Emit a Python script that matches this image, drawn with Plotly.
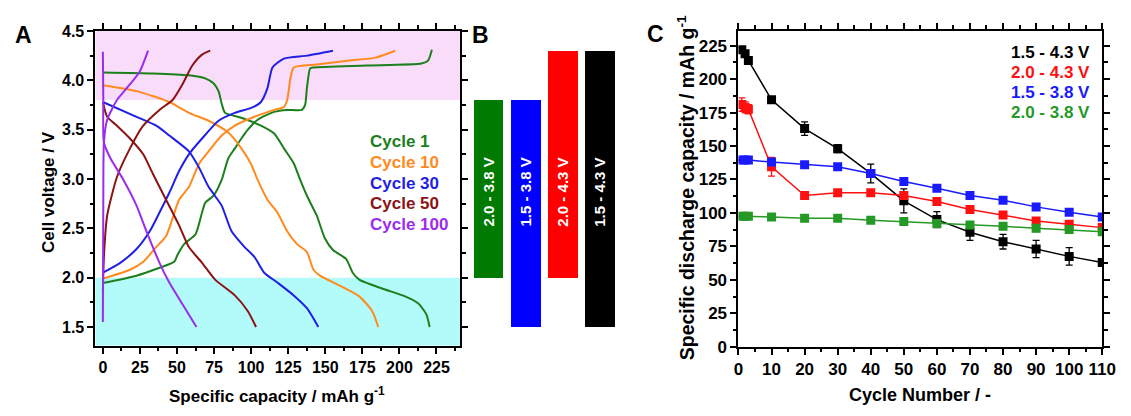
import plotly.graph_objects as go

# ---------------- Panel A data (capacity mAh/g, voltage V) ----------------
c1_ch_x = [0, 22.7, 38.2, 48.1, 50.3, 54.8, 62.5, 66.9, 69.1, 74.6, 80.1, 84.6, 89, 93.4, 97.8, 104.4, 115.5, 124.3, 134.2, 136.4, 137.6, 139.8, 142, 177.3, 214.8, 219.3, 221.9]
c1_ch_y = [1.946, 2.02, 2.10, 2.16, 2.23, 2.34, 2.44, 2.66, 2.76, 2.83, 2.99, 3.21, 3.31, 3.41, 3.50, 3.60, 3.68, 3.70, 3.70, 3.75, 3.92, 4.12, 4.13, 4.15, 4.17, 4.20, 4.31]
c1_dis_x = [0, 33.8, 58, 69, 74.6, 78, 80.2, 82.4, 93.4, 106.6, 115.5, 122.1, 128.7, 133.1, 137.6, 144.2, 149.7, 155.2, 164, 168.5, 172.9, 188.3, 203.8, 212.6, 218.1, 220.4]
c1_dis_y = [4.08, 4.07, 4.05, 4.02, 3.97, 3.89, 3.76, 3.67, 3.62, 3.54, 3.46, 3.31, 3.16, 2.99, 2.83, 2.63, 2.40, 2.28, 2.19, 2.05, 1.98, 1.89, 1.81, 1.74, 1.63, 1.50]

c10_ch_x = [0, 18.3, 27.2, 36, 42.6, 47, 51.4, 58.1, 64.7, 71.3, 80.1, 89, 102.2, 115.5, 122.1, 124.3, 126.5, 128.7, 144.2, 166.3, 183.9, 197.2]
c10_ch_y = [1.99, 2.08, 2.16, 2.31, 2.42, 2.60, 2.79, 2.92, 3.15, 3.28, 3.44, 3.54, 3.63, 3.70, 3.73, 3.80, 4.02, 4.13, 4.16, 4.20, 4.23, 4.30]
c10_dis_x = [0, 22.7, 44.8, 58, 71.3, 84.6, 93.4, 100, 104.4, 111, 117.7, 124.3, 130.9, 137.6, 142, 146.4, 159.6, 172.9, 181.7, 185.7]
c10_dis_y = [3.95, 3.89, 3.78, 3.67, 3.59, 3.47, 3.31, 3.15, 2.99, 2.79, 2.66, 2.47, 2.34, 2.26, 2.08, 2.02, 1.92, 1.81, 1.66, 1.50]

c30_ch_x = [0, 11.7, 22.7, 31.6, 38.2, 44.8, 51.4, 58, 66.9, 78, 89, 100, 106.6, 111, 114.4, 122.1, 137.6, 155.2]
c30_ch_y = [2.05, 2.15, 2.29, 2.47, 2.66, 2.86, 3.08, 3.25, 3.41, 3.59, 3.67, 3.72, 3.78, 3.92, 4.13, 4.22, 4.25, 4.30]
c30_dis_x = [0, 22.7, 36, 44.8, 58, 64.7, 71.3, 80.1, 86.8, 95.6, 102.2, 108.8, 117.7, 128.7, 137.6, 145.3]
c30_dis_y = [3.78, 3.63, 3.54, 3.44, 3.28, 3.12, 2.92, 2.73, 2.47, 2.31, 2.21, 2.05, 1.95, 1.82, 1.69, 1.50]

c50_ch_x = [0, 0.7, 2.9, 9.5, 18.3, 27.2, 38.2, 47, 53.7, 60.3, 66.9, 72.4]
c50_ch_y = [1.85, 2.21, 2.63, 3.02, 3.31, 3.54, 3.70, 3.80, 3.96, 4.15, 4.26, 4.30]
c50_dis_x = [0, 2.9, 9.5, 18.3, 27.2, 33.8, 42.6, 51.4, 58, 66.9, 75.7, 89, 97.8, 103.3]
c50_dis_y = [3.78, 3.63, 3.54, 3.41, 3.25, 3.05, 2.79, 2.53, 2.31, 2.15, 1.98, 1.82, 1.66, 1.50]

c100_ch_x = [0, 0.3, 0.7, 2.9, 9.5, 18.3, 24.9, 30.5]
c100_ch_y = [1.55, 2.8, 3.37, 3.60, 3.80, 3.96, 4.09, 4.30]
c100_dis_x = [0, 0.3, 0.7, 5.1, 13.9, 22.7, 29.4, 38.2, 44.8, 53.7, 63.1]
c100_dis_y = [4.29, 3.8, 3.37, 3.21, 2.99, 2.73, 2.47, 2.15, 1.95, 1.73, 1.50]

cycle_labels = ["Cycle 1", "Cycle 10", "Cycle 30", "Cycle 50", "Cycle 100"]

# ---------------- Panel B data ----------------
window_labels = ["2.0 - 3.8 V", "1.5 - 3.8 V", "2.0 - 4.3 V", "1.5 - 4.3 V"]
window_low = [2.0, 1.5, 2.0, 1.5]
window_high = [3.8, 3.8, 4.3, 4.3]

# ---------------- Panel C data ----------------
cyc_black = [1, 2, 3, 10, 20, 30, 40, 50, 60, 70, 80, 90, 100, 110]
cap_black = [222, 219, 214, 184.5, 163, 148, 129.5, 109, 95, 85.5, 78.5, 73, 67.5, 63]
err_black = [1.5, 1.5, 1.5, 1.5, 5, 3, 7, 9, 6, 6, 5.5, 6.5, 6.5, 1]

cyc_red = [1, 2, 3, 10, 20, 30, 40, 50, 60, 70, 80, 90, 100, 110]
cap_red = [181, 179, 177.5, 134.5, 113, 115, 115, 113, 108.5, 102.5, 98.5, 94, 91.5, 89]
err_red = [5, 4, 3.5, 7, 1, 1, 2, 2, 1, 1, 1, 1, 1, 1]

cyc_blue = [1, 2, 3, 10, 20, 30, 40, 50, 60, 70, 80, 90, 100, 110]
cap_blue = [139.5, 139.5, 139.5, 138, 136, 134.5, 129.5, 123.5, 118.5, 113, 109.5, 104.5, 100.5, 97]
err_blue = [0.5, 0.5, 0.5, 1, 1, 1, 2, 1, 1, 1, 1, 1, 1, 1]

cyc_green = [1, 2, 3, 10, 20, 30, 40, 50, 60, 70, 80, 90, 100, 110]
cap_green = [97.5, 97.5, 97.5, 97, 96, 96, 94.5, 93.5, 92, 91, 90, 88.5, 87.5, 86]
err_green = [0.5, 0.5, 0.5, 0.5, 1, 1, 1, 1.5, 2, 2, 2.5, 2.5, 2.5, 2]

c_labels = ["1.5 - 4.3 V", "2.0 - 4.3 V", "1.5 - 3.8 V", "2.0 - 3.8 V"]

# ---------------- styles ----------------
W, H = 1131, 416
FONT = "Liberation Sans"
A_cols = ["#1b7f1b", "#ff8a1e", "#1f1fe6", "#8b1313", "#9a2cf0"]
B_cols = ["#007a00", "#0000ff", "#ff0000", "#000000"]
C_cols = ["#000000", "#ff1010", "#1a1aff", "#259925"]

def px_x(p):
    return p / W

def px_y(p):
    return 1 - p / H

fig = go.Figure()

curves = [
    (c1_ch_x, c1_ch_y, c1_dis_x, c1_dis_y),
    (c10_ch_x, c10_ch_y, c10_dis_x, c10_dis_y),
    (c30_ch_x, c30_ch_y, c30_dis_x, c30_dis_y),
    (c50_ch_x, c50_ch_y, c50_dis_x, c50_dis_y),
    (c100_ch_x, c100_ch_y, c100_dis_x, c100_dis_y),
]
for (cx, cy, dx, dy), col, lab in zip(curves, A_cols, cycle_labels):
    for xs, ys in ((cx, cy), (dx, dy)):
        fig.add_trace(go.Scatter(x=xs, y=ys, mode="lines", xaxis="x", yaxis="y",
                                 line=dict(color=col, width=2, shape="spline", smoothing=0.6),
                                 showlegend=False, hoverinfo="skip"))

# Panel B bars
fig.add_trace(go.Bar(x=[0, 1, 2, 3], y=[h - l for h, l in zip(window_high, window_low)],
                     base=window_low, width=0.8, marker=dict(color=B_cols, line=dict(width=0)),
                     xaxis="x2", yaxis="y2", showlegend=False, hoverinfo="skip"))

# Panel C series
for xs, ys, es, col in ((cyc_black, cap_black, err_black, C_cols[0]),
                        (cyc_red, cap_red, err_red, C_cols[1]),
                        (cyc_blue, cap_blue, err_blue, C_cols[2]),
                        (cyc_green, cap_green, err_green, C_cols[3])):
    fig.add_trace(go.Scatter(x=xs, y=ys, mode="lines+markers", xaxis="x3", yaxis="y3",
                             line=dict(color=col, width=1.5),
                             marker=dict(symbol="square", size=9, color=col),
                             error_y=dict(type="data", array=es, color=col, thickness=1.3, width=3.5),
                             showlegend=False, hoverinfo="skip"))

def axis_common(size):
    return dict(showline=True, linecolor="black", linewidth=2, mirror="allticks",
                ticks="outside", ticklen=6, tickwidth=1.5, tickcolor="black",
                showgrid=False, zeroline=False,
                tickfont=dict(family=FONT, size=size, color="black", weight="bold"))

minor = lambda d: dict(dtick=d, ticklen=3.5, tickwidth=1.5, ticks="outside", tickcolor="black")

fig.update_layout(
    width=W, height=H, margin=dict(l=0, r=0, t=0, b=0),
    paper_bgcolor="white", plot_bgcolor="white",
    font=dict(family=FONT, color="black"),
    xaxis=dict(domain=[px_x(92), px_x(463)], range=[-5, 241], tickmode="linear", tick0=0, dtick=25,
               minor=minor(12.5), anchor="y", **axis_common(16)),
    yaxis=dict(domain=[px_y(353), px_y(24)], range=[1.31, 4.5], tickmode="linear", tick0=1.5, dtick=0.5,
               tickformat=".1f", minor=minor(0.25), anchor="x", **axis_common(16)),
    xaxis2=dict(domain=[px_x(473), px_x(624)], range=[-0.5, 3.5], visible=False, anchor="y2"),
    yaxis2=dict(domain=[px_y(353), px_y(24)], range=[1.31, 4.5], visible=False, anchor="x2"),
    xaxis3=dict(domain=[px_x(746), px_x(1116)], range=[0, 110], tickmode="linear", tick0=0, dtick=10,
                minor=minor(5), anchor="y3", **axis_common(17)),
    yaxis3=dict(domain=[px_y(354), px_y(24)], range=[0, 236], tickmode="linear", tick0=0, dtick=25,
                minor=minor(12.5), anchor="x3", **axis_common(17)),
    bargap=0,
)

# shaded regions in panel A
fig.add_shape(type="rect", xref="x domain", yref="y", x0=0, x1=1, y0=3.8, y1=4.5,
              fillcolor="#f9dcf9", line=dict(width=0), layer="below")
fig.add_shape(type="rect", xref="x domain", yref="y", x0=0, x1=1, y0=1.31, y1=2.0,
              fillcolor="#b3fbfb", line=dict(width=0), layer="below")

ann = []
# panel labels
for txt, x, y in (("A", 18.5, 28), ("B", 484, 28), ("C", 662, 27)):
    ann.append(dict(text=f"<b>{txt}</b>", x=px_x(x), y=px_y(y), xref="paper", yref="paper",
                    showarrow=False, font=dict(family=FONT, size=23, color="black"),
                    xanchor="center", yanchor="middle"))
# panel A legend
for i, (lab, col) in enumerate(zip(cycle_labels, A_cols)):
    ann.append(dict(text=f"<b>{lab}</b>", x=px_x(369), y=px_y(140 + i * 21.5), xref="paper", yref="paper",
                    showarrow=False, font=dict(family=FONT, size=17, color=col),
                    xanchor="left", yanchor="middle"))
# panel C legend
for i, (lab, col) in enumerate(zip(c_labels, C_cols)):
    ann.append(dict(text=f"<b>{lab}</b>", x=px_x(1106), y=px_y(46 + i * 21), xref="paper", yref="paper",
                    showarrow=False, font=dict(family=FONT, size=17, color=col),
                    xanchor="right", yanchor="middle"))
# panel B labels
for i, lab in enumerate(window_labels):
    ann.append(dict(text=f"<b>{lab}</b>", x=i, y=2.87, xref="x2", yref="y2", showarrow=False,
                    textangle=-90, font=dict(family=FONT, size=15, color="white"),
                    xanchor="center", yanchor="middle"))
# axis titles
ann.append(dict(text="<b>Cell voltage / V</b>", x=px_x(44), y=px_y(192), xref="paper", yref="paper",
                showarrow=False, textangle=-90, font=dict(family=FONT, size=17, color="black"),
                xanchor="center", yanchor="middle"))
ann.append(dict(text="<b>Specific capacity / mAh g<sup>-1</sup></b>", x=px_x(277), y=px_y(404),
                xref="paper", yref="paper", showarrow=False,
                font=dict(family=FONT, size=17, color="black"), xanchor="center", yanchor="middle"))
ann.append(dict(text="<b>Specific discharge capacity / mAh g<sup>-1</sup></b>", x=px_x(692), y=px_y(188),
                xref="paper", yref="paper", showarrow=False, textangle=-90,
                font=dict(family=FONT, size=19.5, color="black"), xanchor="center", yanchor="middle"))
ann.append(dict(text="<b>Cycle Number / -</b>", x=px_x(931), y=px_y(405), xref="paper", yref="paper",
                showarrow=False, font=dict(family=FONT, size=18, color="black"),
                xanchor="center", yanchor="middle"))
fig.update_layout(annotations=ann)

fig.write_html("out.html")
